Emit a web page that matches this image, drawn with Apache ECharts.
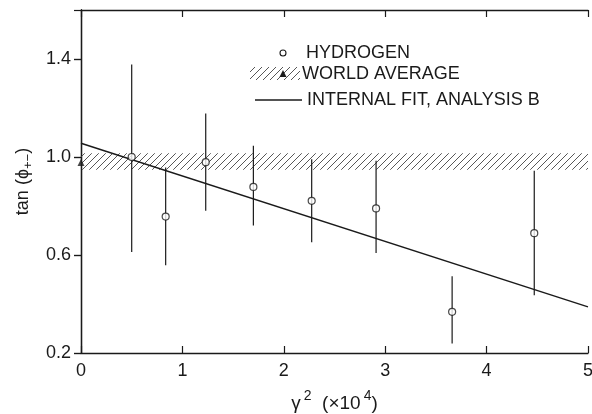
<!DOCTYPE html>
<html><head><meta charset="utf-8">
<script src="https://cdn.jsdelivr.net/npm/echarts@6/dist/echarts.min.js"></script>
<style>html,body{margin:0;padding:0;background:#fff}#c{width:592px;height:414px}</style>
</head><body><div id="c"></div>
<script>
// Data
var xValues = [0.50, 0.835, 1.23, 1.70, 2.275, 2.91, 3.66, 4.47];
var yValues = [1.00, 0.757, 0.979, 0.878, 0.821, 0.790, 0.368, 0.689];
var errLow  = [0.612, 0.558, 0.781, 0.720, 0.652, 0.608, 0.239, 0.436];
var errHigh = [1.378, 0.957, 1.178, 1.046, 0.991, 0.985, 0.513, 0.944];
var fitLine = [[0, 1.056], [5, 0.388]];
var worldAvg = [0, 0.978];
var worldBand = [0.948, 1.015];
var xTicks = [0, 1, 2, 3, 4, 5];
var yTicks = [0.2, 0.6, 1.0, 1.4];

var ink = '#1a1a1a';
var font = 'Liberation Sans';

// hatch pattern
var pc = document.createElement('canvas');
pc.width = 7; pc.height = 7;
var g = pc.getContext('2d');
g.strokeStyle = '#444'; g.lineWidth = 0.9;
g.beginPath();
g.moveTo(0, 7); g.lineTo(7, 0);
g.moveTo(-1, 1); g.lineTo(1, -1);
g.moveTo(6, 8); g.lineTo(8, 6);
g.stroke();
var hatch = {image: pc, repeat: 'repeat'};

var points = xValues.map(function (x, i) { return [x, yValues[i]]; });
var errData = xValues.map(function (x, i) { return [x, errLow[i], errHigh[i]]; });

var chart = echarts.init(document.getElementById('c'), null, {renderer: 'canvas'});
var axisLine = {show: true, lineStyle: {color: ink, width: 1.3}};
chart.setOption({
  animation: false,
  backgroundColor: '#fff',
  grid: {left: 81, right: 4, top: 10, bottom: 61, containLabel: false, outerBoundsMode: 'none'},
  xAxis: [{
    type: 'value', min: 0, max: 5, interval: 1, position: 'bottom',
    axisLine: axisLine, splitLine: {show: false},
    axisTick: {show: true, inside: true, length: 7, lineStyle: {color: ink, width: 1.2}},
    axisLabel: {color: ink, fontFamily: font, fontSize: 18, margin: 9,
      formatter: function (v) { return xTicks.indexOf(v) >= 0 ? String(v) : ''; }},
    name: '{a|γ}{sup|2}{a|  (×10}{sup|4}{a|)}', nameLocation: 'middle', nameGap: 33,
    nameTextStyle: {rich: {
      a: {fontFamily: font, fontSize: 19, color: ink, padding: [8, 0, 0, 0]},
      sup: {fontFamily: font, fontSize: 14, color: ink, padding: [0, 0, 7, 3]}
    }}
  }, {
    type: 'value', min: 0, max: 5, interval: 1, position: 'top',
    axisLine: axisLine, splitLine: {show: false},
    axisTick: {show: true, inside: true, length: 7, lineStyle: {color: ink, width: 1.2}},
    axisLabel: {show: false}
  }],
  yAxis: [{
    type: 'value', min: 0.2, max: 1.6, interval: 0.4, position: 'left',
    axisLine: axisLine, splitLine: {show: false},
    axisTick: {show: true, inside: false, length: 7, lineStyle: {color: ink, width: 1.2}},
    axisLabel: {color: ink, fontFamily: font, fontSize: 18, margin: 10, showMaxLabel: false,
      formatter: function (v) { return yTicks.indexOf(Math.round(v * 10) / 10) >= 0 ? v.toFixed(1) : ''; }},
    name: '{a|tan (ϕ}{sub|+−}{a|)}', nameLocation: 'middle', nameGap: 43, nameRotate: 90,
    nameTextStyle: {rich: {
      a: {fontFamily: font, fontSize: 18, color: ink},
      sub: {fontFamily: font, fontSize: 13, color: ink, padding: [12, 0, 0, 0]}
    }}
  }, {
    type: 'value', min: 0.2, max: 1.6, interval: 0.4, position: 'right',
    axisLine: axisLine, splitLine: {show: false},
    axisTick: {show: true, inside: true, length: 7, lineStyle: {color: ink, width: 1.2}},
    axisLabel: {show: false}
  }],
  series: [{
    name: 'WORLD AVERAGE band', type: 'line', data: [], silent: true,
    markArea: {silent: true, itemStyle: {color: hatch},
      data: [[{xAxis: 0, yAxis: worldBand[0]}, {xAxis: 5, yAxis: worldBand[1]}]]}
  }, {
    name: 'INTERNAL FIT, ANALYSIS B', type: 'line', data: fitLine, symbol: 'none',
    lineStyle: {color: ink, width: 1.4}, z: 3
  }, {
    name: 'errors', type: 'custom', data: errData, z: 4,
    renderItem: function (params, api) {
      var lo = api.coord([api.value(0), api.value(1)]);
      var hi = api.coord([api.value(0), api.value(2)]);
      return {type: 'line', shape: {x1: lo[0], y1: lo[1], x2: hi[0], y2: hi[1]},
        style: {stroke: ink, lineWidth: 1.2}};
    }
  }, {
    name: 'HYDROGEN', type: 'scatter', data: points, symbol: 'circle', symbolSize: 7, z: 5,
    itemStyle: {color: '#fff', borderColor: ink, borderWidth: 1.2}
  }, {
    name: 'WORLD AVERAGE', type: 'scatter', data: [worldAvg], symbol: 'triangle', symbolSize: 7,
    clip: false, z: 6, itemStyle: {color: ink}
  }],
  graphic: [
    {type: 'circle', shape: {cx: 283, cy: 53, r: 3}, style: {fill: '#fff', stroke: ink, lineWidth: 1.1}},
    {type: 'text', left: 306, top: 44, style: {text: 'HYDROGEN', font: '18px "Liberation Sans"', fill: ink}},
    {type: 'rect', shape: {x: 250, y: 67, width: 50, height: 13}, style: {fill: hatch}},
    {type: 'polygon', shape: {points: [[283, 70], [279.5, 77], [286.5, 77]]}, style: {fill: ink}},
    {type: 'text', left: 302, top: 65, style: {text: 'WORLD AVERAGE', font: '18px "Liberation Sans"', fill: ink}},
    {type: 'line', shape: {x1: 255, y1: 100, x2: 302, y2: 100}, style: {stroke: ink, lineWidth: 1.3}},
    {type: 'text', left: 307, top: 91, style: {text: 'INTERNAL FIT, ANALYSIS B', font: '18px "Liberation Sans"', fill: ink}}
  ]
});
</script></body></html>
